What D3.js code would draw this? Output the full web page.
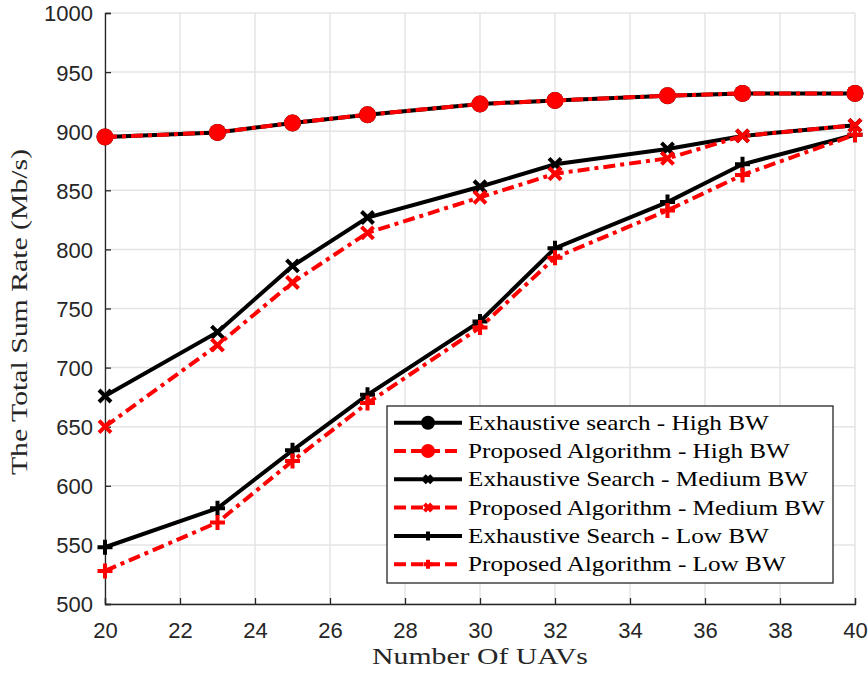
<!DOCTYPE html>
<html>
<head>
<meta charset="utf-8">
<script src="https://cdn.jsdelivr.net/npm/d3@7"></script>
<style>
  body { margin: 0; background: #fff; }
  svg { display: block; }
</style>
</head>
<body>
<svg id="chart" width="868" height="675"></svg>
<script>
// Number of UAVs on the x axis
const uavCounts = [20, 23, 25, 27, 30, 32, 35, 37, 40];

// Total sum rate (Mb/s) per scheme and bandwidth
const exhaustiveHigh = [895, 899, 907, 914, 923, 926, 930, 932, 932];
const proposedHigh   = [895, 899, 907, 914, 923, 926, 930, 932, 932];
const exhaustiveMed  = [676, 730, 786, 827, 853, 872, 885, 896, 905];
const proposedMed    = [650, 719, 772, 814, 844, 864, 877, 896, 905];
const exhaustiveLow  = [548, 581, 630, 677, 739, 801, 840, 872, 897];
const proposedLow    = [528, 569, 621, 670, 734, 793, 833, 863, 897];

const xTicks = [20, 22, 24, 26, 28, 30, 32, 34, 36, 38, 40];
const yTicks = [500, 550, 600, 650, 700, 750, 800, 850, 900, 950, 1000];

const seriesNames = [
  "Exhaustive search - High BW",
  "Proposed Algorithm - High BW",
  "Exhaustive Search - Medium BW",
  "Proposed Algorithm - Medium BW",
  "Exhaustive Search - Low BW",
  "Proposed Algorithm - Low BW"
];

const dashDot = "12,5,4,5";
const series = [
  { name: seriesNames[0], values: exhaustiveHigh, color: "#000", dash: null, marker: "circle" },
  { name: seriesNames[1], values: proposedHigh, color: "#ff0000", dash: dashDot, marker: "circle" },
  { name: seriesNames[2], values: exhaustiveMed, color: "#000", dash: null, marker: "cross" },
  { name: seriesNames[3], values: proposedMed, color: "#ff0000", dash: dashDot, marker: "cross" },
  { name: seriesNames[4], values: exhaustiveLow, color: "#000", dash: null, marker: "plus" },
  { name: seriesNames[5], values: proposedLow, color: "#ff0000", dash: dashDot, marker: "plus" }
];

const W = 868, H = 675;
const margin = { left: 105, right: 13, top: 13, bottom: 71 };
const svg = d3.select("#chart");

const x = d3.scaleLinear().domain([20, 40]).range([margin.left, W - margin.right]);
const y = d3.scaleLinear().domain([500, 1000]).range([H - margin.bottom, margin.top]);

const tickFont = "'Liberation Sans', Arial, sans-serif";
const serifFont = "'Liberation Serif', 'Times New Roman', serif";

// grid
const grid = svg.append("g");
grid.selectAll("line.gx").data(xTicks).join("line")
  .attr("x1", d => x(d)).attr("x2", d => x(d))
  .attr("y1", y(500)).attr("y2", y(1000))
  .attr("stroke", "#e4e4e4").attr("stroke-width", 1.5);
grid.selectAll("line.gy").data(yTicks).join("line")
  .attr("x1", x(20)).attr("x2", x(40))
  .attr("y1", d => y(d)).attr("y2", d => y(d))
  .attr("stroke", "#e4e4e4").attr("stroke-width", 1.5);

// axes with inward ticks
const xAxis = d3.axisBottom(x).tickValues(xTicks).tickSize(-6).tickPadding(18).tickFormat(d3.format("d"));
const yAxis = d3.axisLeft(y).tickValues(yTicks).tickSize(-6).tickPadding(12).tickFormat(d3.format("d"));

const gx = svg.append("g").attr("transform", `translate(0,${y(500)})`).call(xAxis);
const gy = svg.append("g").attr("transform", `translate(${x(20)},0)`).call(yAxis);
[gx, gy].forEach(g => {
  g.attr("font-family", tickFont).attr("font-size", 22);
  g.select(".domain").attr("stroke", "#262626").attr("stroke-width", 1.3);
  g.selectAll(".tick line").attr("stroke", "#262626").attr("stroke-width", 1.3);
  g.selectAll(".tick text").attr("fill", "#262626")
    .style("font-family", tickFont).style("font-size", "22px");
});
gy.selectAll(".tick text").attr("dy", "0.36em");

// serif text helper: horizontally widened text anchored at (px, py)
function serifText(parent, px, py, str, size, anchor, stretch, rotate) {
  const g = parent.append("g")
    .attr("transform", `translate(${px},${py})${rotate ? " rotate(" + rotate + ")" : ""} scale(${stretch},1)`);
  return g.append("text")
    .attr("x", 0).attr("y", 0)
    .attr("text-anchor", anchor)
    .style("font-family", serifFont).style("font-size", size + "px")
    .text(str);
}

// axis titles
serifText(svg, (x(20) + x(40)) / 2, 664, "Number Of UAVs", 24, "middle", 1.24).attr("fill", "#262626");
serifText(svg, 27, 312, "The Total Sum Rate (Mb/s)", 24, "middle", 1.24, -90).attr("fill", "#262626");

// marker drawing
function drawMarker(g, kind, cx, cy, color, size) {
  if (kind === "circle") {
    g.append("circle").attr("cx", cx).attr("cy", cy).attr("r", size).attr("fill", color);
  } else if (kind === "cross") {
    const s = size * 0.8;
    g.append("path")
      .attr("d", `M${cx - s},${cy - s}L${cx + s},${cy + s}M${cx - s},${cy + s}L${cx + s},${cy - s}`)
      .attr("stroke", color).attr("stroke-width", 4).attr("fill", "none");
  } else {
    const s = size;
    g.append("path")
      .attr("d", `M${cx - s},${cy}L${cx + s},${cy}M${cx},${cy - s}L${cx},${cy + s}`)
      .attr("stroke", color).attr("stroke-width", 4).attr("fill", "none");
  }
}

const line = d3.line().x((d, i) => x(uavCounts[i])).y(d => y(d));
const plot = svg.append("g");
series.forEach(s => {
  plot.append("path").datum(s.values)
    .attr("d", line)
    .attr("fill", "none").attr("stroke", s.color).attr("stroke-width", 4)
    .attr("stroke-dasharray", s.dash);
  const mg = plot.append("g");
  s.values.forEach((v, i) => {
    drawMarker(mg, s.marker, x(uavCounts[i]), y(v), s.color, s.marker === "circle" ? 8.5 : 7.5);
  });
});

// legend
const lg = svg.append("g");
const lx = 387, ly = 406, lw = 446, lh = 177;
lg.append("rect").attr("x", lx).attr("y", ly).attr("width", lw).attr("height", lh)
  .attr("fill", "#fff").attr("stroke", "#262626").attr("stroke-width", 1.3);
series.forEach((s, i) => {
  const cy = ly + 16.7 + i * 28.3;
  lg.append("line").attr("x1", lx + 7).attr("x2", lx + 75).attr("y1", cy).attr("y2", cy)
    .attr("stroke", s.color).attr("stroke-width", 4)
    .attr("stroke-dasharray", s.dash ? "12,5" : null);
  const mk = s.marker === "circle" ? 7 : 4.5;
  drawMarker(lg, s.marker, lx + 41, cy, s.color, mk);
  serifText(lg, lx + 81, cy + 7, s.name, 21, "start", 1.2).attr("fill", "#000");
});
</script>
</body>
</html>
